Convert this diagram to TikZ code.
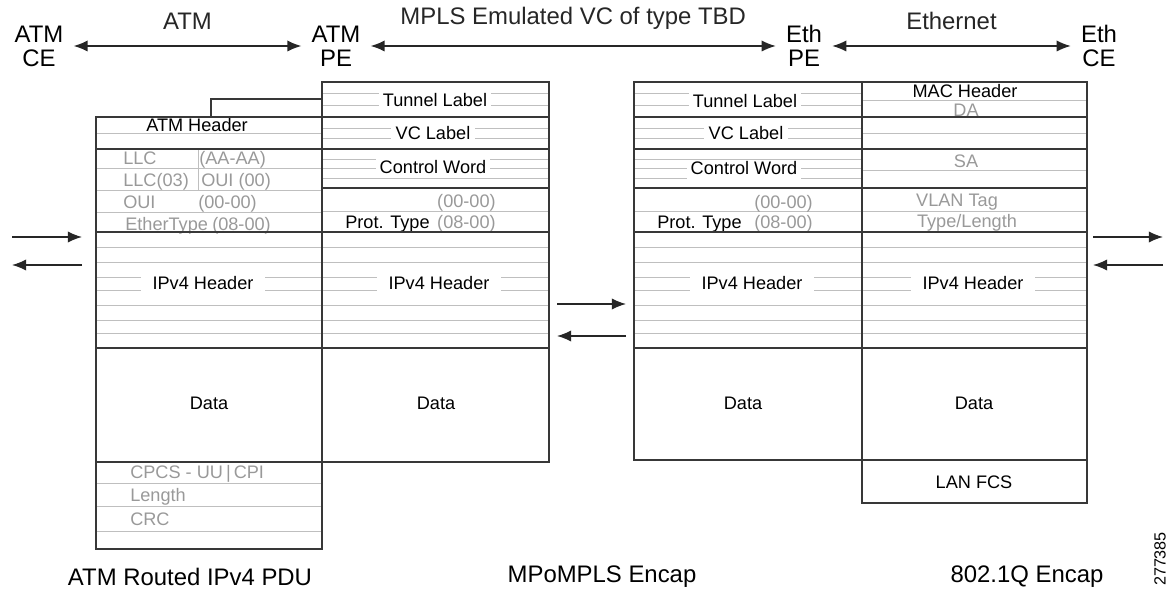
\documentclass[tikz,border=0pt]{standalone}
\usepackage{fontspec}
\setmainfont{Liberation Sans}
\usetikzlibrary{arrows.meta,positioning}
\tikzset{>={Latex[length=10pt,width=8pt]}}
\colorlet{Rulecol}{black!78}
\colorlet{Faintcol}{black!25}
\colorlet{Greycol}{black!40}
\tikzstyle{heavy line}=[Rulecol,line width=1pt]
\tikzstyle{faint line}=[Faintcol,line width=0.7pt]
\tikzstyle{plain field}=[font=\fontsize{12.9}{14}\selectfont,inner sep=0pt,
  text height=9pt,text depth=2.5pt,yshift=-1.4pt]
\tikzstyle{field}=[plain field,inner xsep=3pt,inner ysep=1pt,fill=white]
\tikzstyle{wide field}=[field,inner xsep=8pt]
\tikzstyle{grey field}=[plain field,text=Greycol]
\tikzstyle{endpoint}=[font=\fontsize{17}{17}\selectfont,align=center,inner xsep=0.25cm]
\tikzstyle{caption}=[font=\fontsize{17}{18}\selectfont]
\tikzstyle{span}=[<->,line width=1pt,black!85]
\tikzstyle{flow}=[->,line width=1pt,black!85]

\begin{document}
\begin{tikzpicture}[x={(0.025cm,0)},y={(0,-0.025cm)}]
  \def\Al{96}  \def\Ar{322} \def\Br{549}
  \def\Cl{634} \def\Cr{862} \def\Dr{1087}
  \useasboundingbox (0,0) rectangle (1172,589);

  % ENDPOINTS
  \node[endpoint] (atmce) at (39,46) {ATM\\CE};
  \node[endpoint] (atmpe) at (336,46) {ATM\\PE};
  \node[endpoint] (ethpe) at (804,46) {Eth\\PE};
  \node[endpoint] (ethce) at (1099,46) {Eth\\CE};
  \draw[span] (atmce) -- (atmpe)
    node[caption,midway,yshift=0.62cm] (atmspan) {ATM};
  \draw[span] (atmpe) -- (ethpe)
    node[caption,midway,yshift=0.68cm] (mplsspan) {MPLS Emulated VC of type TBD};
  \draw[span] (ethpe) -- (ethce)
    node[caption,midway,yshift=0.62cm] (ethspan) {Ethernet};

  % FAINT ROWS
  \foreach \y in {247,262,277,290,305,320,333}{
    \draw[faint line] (\Al,\y) -- (\Br,\y);
    \draw[faint line] (\Cl,\y) -- (\Dr,\y);
  }
  \foreach \y in {133,168,190,212,483,506,531}
    \draw[faint line] (\Al,\y) -- (\Ar,\y);
  \draw[faint line] (198,149) -- (198,190);
  \foreach \y in {93,105,128,138,159,168,178,211}{
    \draw[faint line] (\Ar,\y) -- (\Br,\y);
    \draw[faint line] (\Cl,\y) -- (\Cr,\y);
  }
  \foreach \y in {100,133,170,211}
    \draw[faint line] (\Cr,\y) -- (\Dr,\y);

  % ATM PDU
  \node[plain field] (atmhdr) at (197,125) {ATM Header};
  \node[grey field,anchor=west] (llc) at (123,158) {LLC};
  \node[grey field,anchor=west] (llcval) at (199,158) {(AA-AA)};
  \node[grey field,anchor=west] (llc03) at (123,180) {LLC(03)};
  \node[grey field,anchor=west] (oui00) at (201,180) {OUI (00)};
  \node[grey field,anchor=west] (oui) at (123,202) {OUI};
  \node[grey field,anchor=west] (ouival) at (198,202) {(00-00)};
  \node[grey field,anchor=west] (ethtype) at (125,224) {EtherType};
  \node[grey field,anchor=west] (ethtypeval) at (212,224) {(08-00)};
  \node[wide field] (ipA) at (203,283) {IPv4 Header};
  \node[field] (dataA) at (209,403) {Data};
  \node[grey field,anchor=west] (cpcs) at (130,472) {CPCS - UU\,|\,CPI};
  \node[grey field,anchor=west] (lenA) at (130,495) {Length};
  \node[grey field,anchor=west] (crc) at (130,519) {CRC};

  % MPLS LEFT
  \node[field] (tunB) at (435,100) {Tunnel Label};
  \node[field] (vcB) at (433,133) {VC Label};
  \node[field] (cwB) at (433,167) {Control Word};
  \node[grey field,anchor=east] (pidB) at (496,201) {(00-00)};
  \node[plain field,anchor=west] (ptB) at (345,222) {Prot. Type};
  \node[grey field,anchor=east] (ptvalB) at (496,222) {(08-00)};
  \node[wide field] (ipB) at (439,283) {IPv4 Header};
  \node[field] (dataB) at (436,403) {Data};

  % MPLS RIGHT
  \node[field] (tunC) at (745,101) {Tunnel Label};
  \node[field] (vcC) at (746,133) {VC Label};
  \node[field] (cwC) at (744,168) {Control Word};
  \node[grey field,anchor=east] (pidC) at (813,202) {(00-00)};
  \node[plain field,anchor=west] (ptC) at (657,222) {Prot. Type};
  \node[grey field,anchor=east] (ptvalC) at (813,222) {(08-00)};
  \node[wide field] (ipC) at (752,283) {IPv4 Header};
  \node[field] (dataC) at (743,403) {Data};

  % 802.1Q
  \node[plain field] (macD) at (965,91) {MAC Header};
  \node[grey field] (daD) at (966,110) {DA};
  \node[grey field] (saD) at (966,161) {SA};
  \node[grey field] (vlanD) at (957,200) {VLAN Tag};
  \node[grey field] (typeD) at (967,221) {Type/Length};
  \node[wide field] (ipD) at (973,283) {IPv4 Header};
  \node[field] (dataD) at (974,403) {Data};
  \node[field] (fcsD) at (974,482) {LAN FCS};

  % FRAMES
  \draw[heavy line] (\Al,117) rectangle (\Ar,549);
  \draw[heavy line] (211,117) |- (\Ar,99);
  \draw[heavy line] (\Ar,82) rectangle (\Br,462);
  \foreach \y in {117,149,232,348}
    \draw[heavy line] (\Al,\y) -- (\Br,\y);
  \draw[heavy line] (\Ar,188) -- (\Br,188);
  \draw[heavy line] (\Al,462) -- (\Ar,462);
  \draw[heavy line] (\Cl,82) rectangle (\Dr,460);
  \draw[heavy line] (\Cr,82) -- (\Cr,503) -- (\Dr,503) -- (\Dr,460);
  \foreach \y in {117,149,188,232,348}
    \draw[heavy line] (\Cl,\y) -- (\Dr,\y);

  % TRAFFIC
  \coordinate (lin) at (12,237);   \coordinate (linE) at (82,237);
  \coordinate (lout) at (82,265);  \coordinate (loutE) at (12,265);
  \coordinate (min) at (557,304);  \coordinate (minE) at (626,304);
  \coordinate (mout) at (626,336); \coordinate (moutE) at (557,336);
  \coordinate (rin) at (1093,237); \coordinate (rinE) at (1163,237);
  \coordinate (rout) at (1163,265);\coordinate (routE) at (1093,265);
  \draw[flow] (lin) -- (linE);
  \draw[flow] (lout) -- (loutE);
  \draw[flow] (min) -- (minE);
  \draw[flow] (mout) -- (moutE);
  \draw[flow] (rin) -- (rinE);
  \draw[flow] (rout) -- (routE);

  % CAPTIONS
  \node[caption] (pduA) at (190,577) {ATM Routed IPv4 PDU};
  \node[caption] (pduB) at (602,577) {MPoMPLS Encap};
  \node[caption] (pduC) at (1027,577) {802.1Q Encap};
  \node[font=\fontsize{11.5}{12}\selectfont,rotate=90] (figno) at (1160,559) {277385};
\end{tikzpicture}
\end{document}
